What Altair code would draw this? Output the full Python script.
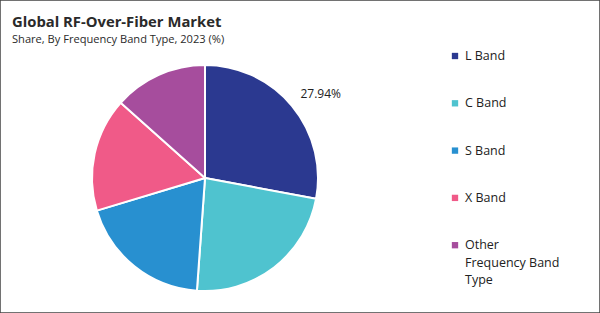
import altair as alt
import pandas as pd

categories = ["L Band", "C Band", "S Band", "X Band", "Other Frequency Band Type"]
shares = [27.94, 23.2, 19.2, 16.25, 13.41]
colors = ["#2B3990", "#4FC3CF", "#2890D0", "#F05A88", "#A64D9D"]
labels = ["27.94%", "", "", "", ""]
legend_lines = [["L Band"], ["C Band"], ["S Band"], ["X Band"], ["Other", "Frequency Band", "Type"]]

FONT = "Open Sans"
CX, CY, R = 205, 178, 113

df = pd.DataFrame({"cat": categories, "share": shares, "label": labels, "order": range(5)})
color_scale = alt.Scale(domain=categories, range=colors)

base = alt.Chart(df)

pie = base.mark_arc(outerRadius=R, stroke="white", strokeWidth=2).encode(
    theta=alt.Theta("share:Q", stack=True),
    color=alt.Color("cat:N", scale=color_scale, legend=None),
    order=alt.Order("order:Q"),
    x=alt.value(CX), y=alt.value(CY),
)

pct = base.mark_text(radius=140, dx=8, dy=5, font=FONT, fontSize=12, color="#222").encode(
    theta=alt.Theta("share:Q", stack=True),
    order=alt.Order("order:Q"),
    text="label:N",
    x=alt.value(CX), y=alt.value(CY),
)

leg_df = pd.DataFrame({"cat": categories, "lines": legend_lines, "idx": range(5)})
leg_base = alt.Chart(leg_df).transform_calculate(
    ypos="56 + datum.idx * 47.3"
)
leg_sq = leg_base.mark_square(size=40, opacity=1).encode(
    x=alt.value(455),
    y=alt.Y("ypos:Q", scale=None),
    color=alt.Color("cat:N", scale=color_scale, legend=None),
)
leg_txt = leg_base.mark_text(align="left", baseline="middle", font=FONT, fontSize=12.5,
                             color="#222", lineHeight=17.5).encode(
    x=alt.value(465),
    y=alt.Y("ypos:Q", scale=None),
    text="lines",
)

title_df = pd.DataFrame({"t": ["Global RF-Over-Fiber Market"], "s": ["Share, By Frequency Band Type, 2023 (%)"]})
title = alt.Chart(title_df).mark_text(align="left", baseline="alphabetic", font=FONT, fontSize=14.8,
                                      fontWeight="bold", color="#2a2a2a").encode(
    x=alt.value(12), y=alt.value(27), text="t:N")
sub = alt.Chart(title_df).mark_text(align="left", baseline="alphabetic", font=FONT, fontSize=11.1,
                                    color="#2a2a2a").encode(
    x=alt.value(12), y=alt.value(43), text="s:N")

chart = alt.layer(pie, pct, leg_sq, leg_txt, title, sub).properties(
    width=600, height=313, padding=0, autosize="none", background="white"
).configure_view(stroke="#444", strokeWidth=1.5)

chart.save("out.html", embed_options={"renderer": "svg", "actions": False})
